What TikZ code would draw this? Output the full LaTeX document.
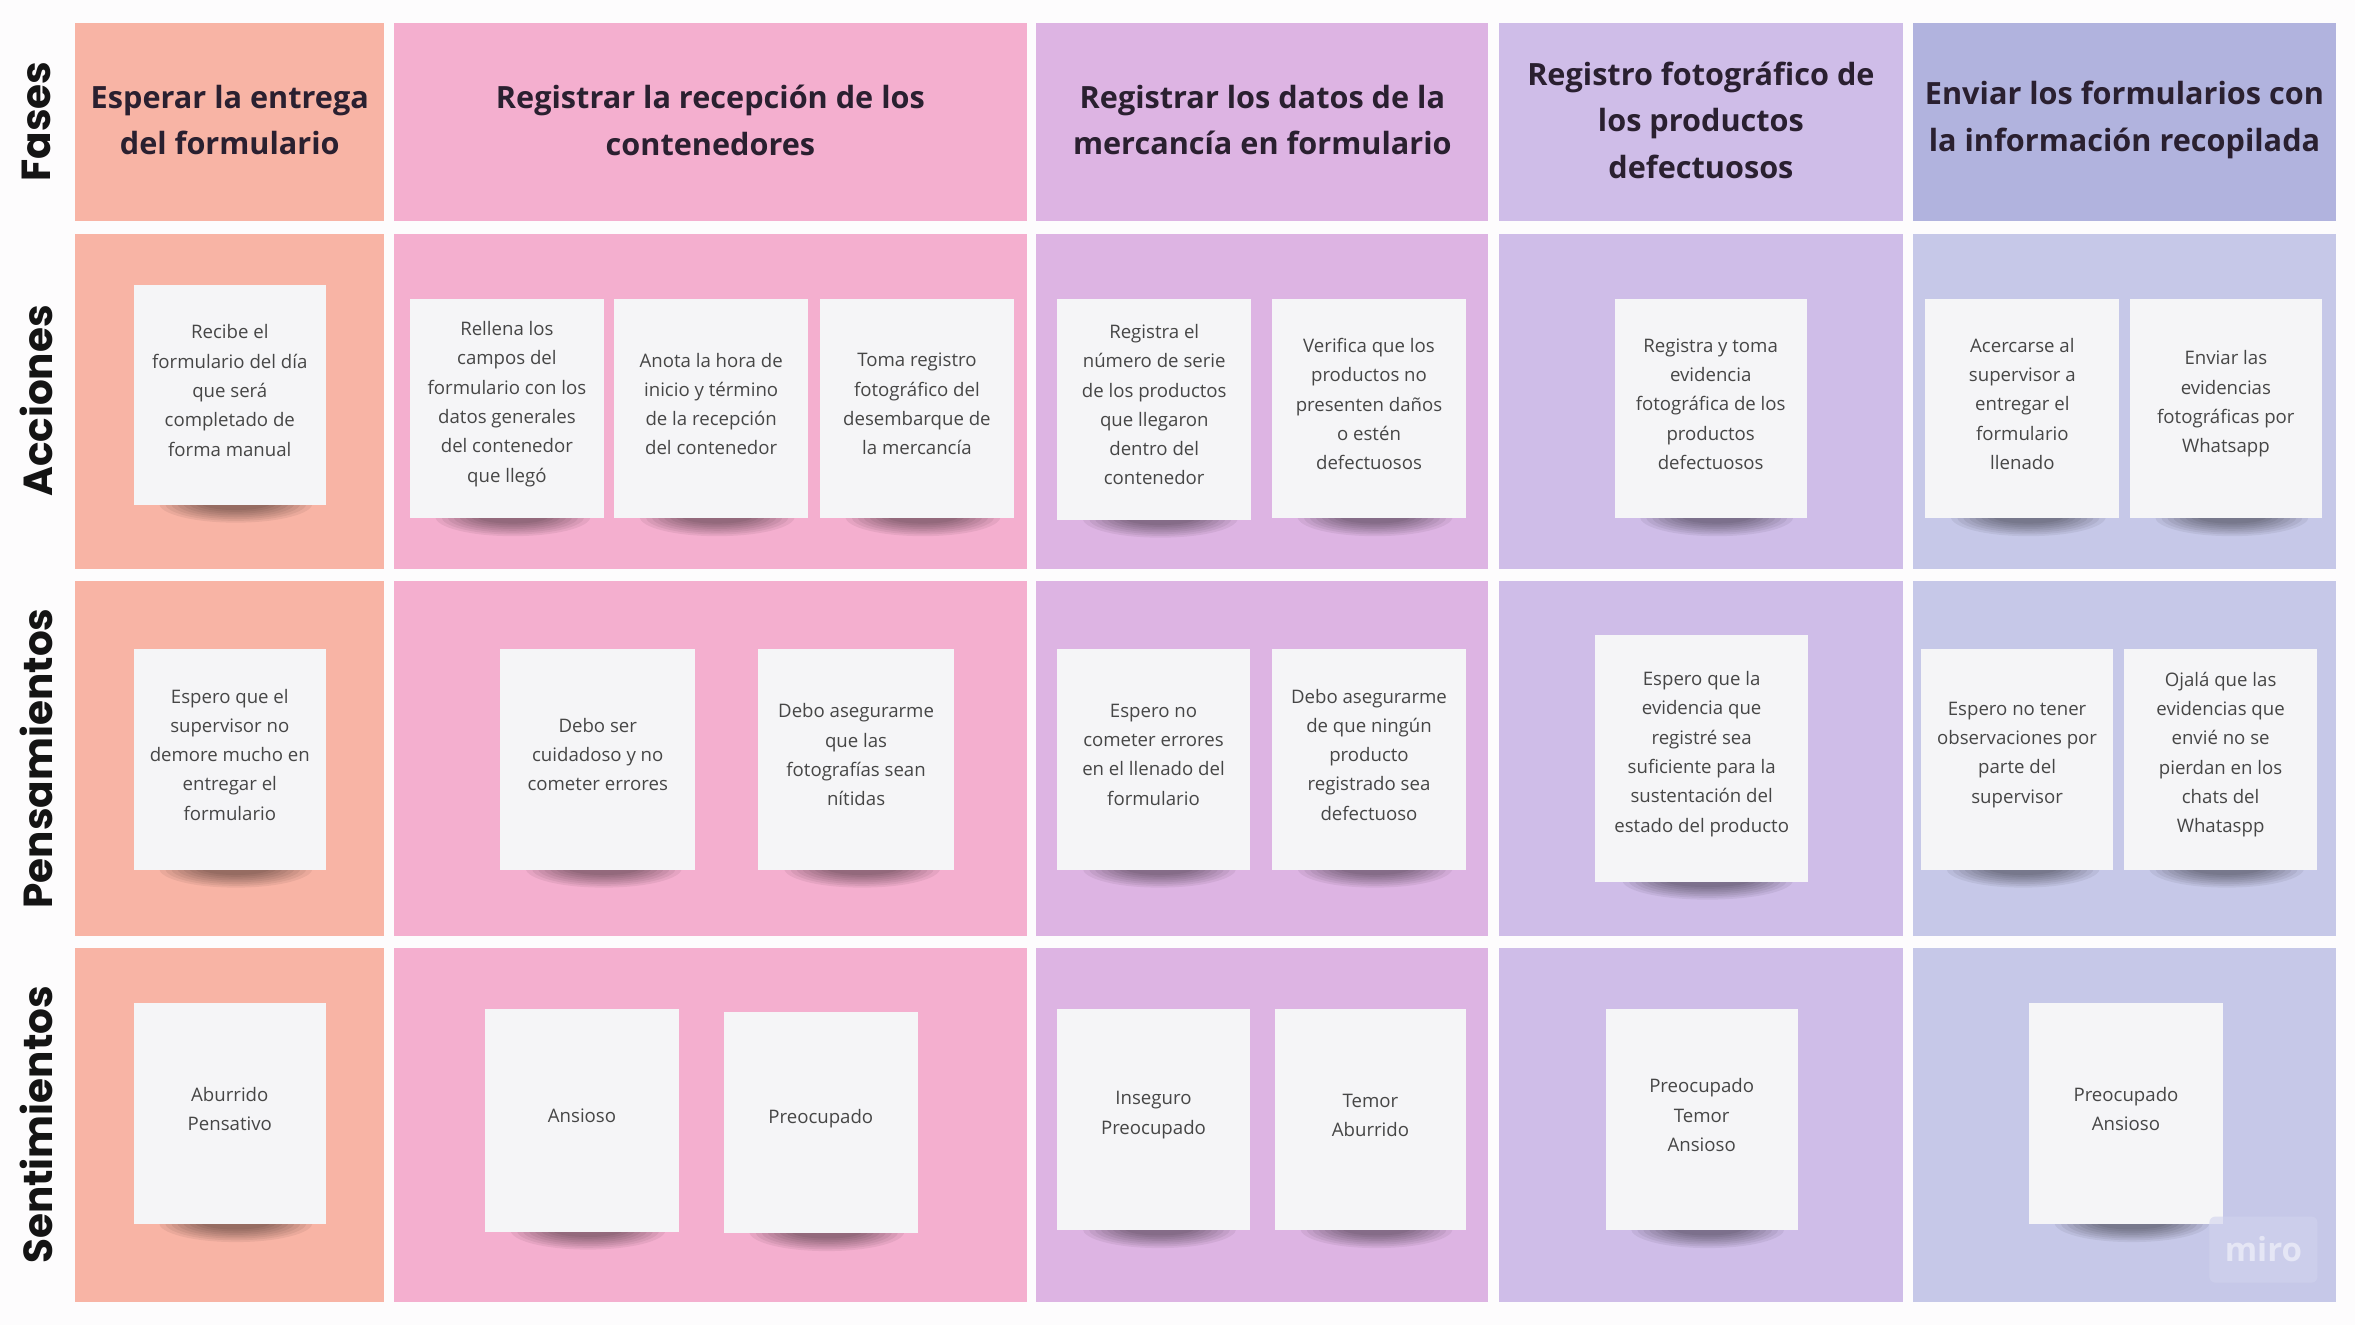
\documentclass[tikz,border=0pt]{standalone}
\usepackage{fontspec}
\setmainfont{Open Sans}
\newfontfamily\poppins{Poppins}
\definecolor{cA}{HTML}{F8B4A5}
\definecolor{cB}{HTML}{F4AFCF}
\definecolor{cC}{HTML}{DDB4E3}
\definecolor{cD}{HTML}{CFBDE8}
\definecolor{cEh}{HTML}{B1B3DE}
\definecolor{cE}{HTML}{C6C8E8}
\definecolor{pagebg}{HTML}{FDFCFD}
\definecolor{notefill}{HTML}{F5F5F7}
\definecolor{notetxt}{HTML}{464646}
\definecolor{headtxt}{HTML}{2A2030}
\tikzset{
  headtext/.style={font=\bfseries\fontsize{10.2}{15.5}\selectfont, align=center, text=headtxt, inner sep=0pt},
  rowlabel/.style={font=\poppins\bfseries\fontsize{13.5}{14}\selectfont, text=black!92, rotate=90, inner sep=0pt},
  stickynote/.style={rectangle, fill=notefill, draw=none, inner sep=0pt},
  notetext/.style={font=\fontsize{6.2}{9.75}\selectfont, align=center, text=notetxt, inner sep=0pt},
  cell/.style={draw=none},
}
\newcommand\sticky[6]{%
  \pgfmathsetmacro\stw{(#4-#2)/2}%
  \pgfmathsetmacro\sth{(#5-#3)/2}%
  \pgfmathsetmacro\stcx{(#2+#4)/2}%
  \pgfmathsetmacro\stcy{(#3+#5)/2}%
  \pgfmathsetmacro\strx{(#4-#2)*0.40}%
  \foreach \k in {0,...,7}{\fill[black,opacity=0.06] (\stcx+4,#5-1) ellipse[x radius=\strx-\k*4, y radius=13-\k*1.2];}
  \node[stickynote, minimum width=\stw pt, minimum height=\sth pt] (#1) at (\stcx,\stcy) {};
  \node[notetext] (#1-t) at ([yshift=1.5pt]#1.center) {#6};
}
\begin{document}
\begin{tikzpicture}[x=0.5pt, y=-0.5pt]
\useasboundingbox (0,0) rectangle (1568,882);
\fill[pagebg] (0,0) rectangle (1568,882);
% cells
\fill[cA] (50,15) rectangle (256,147);
\fill[cB] (262,15) rectangle (684,147);
\fill[cC] (690,15) rectangle (991,147);
\fill[cD] (998,15) rectangle (1267,147);
\fill[cEh] (1274,15) rectangle (1555,147);
\foreach \ya/\yb in {156/379, 387/623, 631/867}{
  \fill[cA] (50,\ya) rectangle (256,\yb);
  \fill[cB] (262,\ya) rectangle (684,\yb);
  \fill[cC] (690,\ya) rectangle (991,\yb);
  \fill[cD] (998,\ya) rectangle (1267,\yb);
  \fill[cE] (1274,\ya) rectangle (1555,\yb);
}
% row labels
\node[rowlabel] (lfases) at (24,81) {Fases};
\node[rowlabel] (lacc) at (24,267) {Acciones};
\node[rowlabel] (lpen) at (24,505) {Pensamientos};
\node[rowlabel] (lsen) at (24,749) {Sentimientos};
% headers
\node[headtext] (h1) at (153,80) {Esperar la entrega\\del formulario};
\node[headtext] (h2) at (473,80) {Registrar la recepción de los\\contenedores};
\node[headtext] (h3) at (840.5,80) {Registrar los datos de la\\mercancía en formulario};
\node[headtext] (h4) at (1132.5,80) {Registro fotográfico de\\los productos\\defectuosos};
\node[headtext] (h5) at (1414.5,80) {Enviar los formularios con\\la información recopilada};
% Acciones
\sticky{a1}{89}{190}{217}{336}{Recibe el\\formulario del día\\que será\\completado de\\forma manual}
\sticky{a2}{273}{199}{402}{345}{Rellena los\\campos del\\formulario con los\\datos generales\\del contenedor\\que llegó}
\sticky{a3}{409}{199}{538}{345}{Anota la hora de\\inicio y término\\de la recepción\\del contenedor}
\sticky{a4}{546}{199}{675}{345}{Toma registro\\fotográfico del\\desembarque de\\la mercancía}
\sticky{a5}{704}{199}{833}{346}{Registra el\\número de serie\\de los productos\\que llegaron\\dentro del\\contenedor}
\sticky{a6}{847}{199}{976}{345}{Verifica que los\\productos no\\presenten daños\\o estén\\defectuosos}
\sticky{a7}{1075}{199}{1203}{345}{Registra y toma\\evidencia\\fotográfica de los\\productos\\defectuosos}
\sticky{a8}{1282}{199}{1411}{345}{Acercarse al\\supervisor a\\entregar el\\formulario\\llenado}
\sticky{a9}{1418}{199}{1546}{345}{Enviar las\\evidencias\\fotográficas por\\Whatsapp}
% Pensamientos
\sticky{p1}{89}{432}{217}{579}{Espero que el\\supervisor no\\demore mucho en\\entregar el\\formulario}
\sticky{p2}{333}{432}{463}{579}{Debo ser\\cuidadoso y no\\cometer errores}
\sticky{p3}{505}{432}{635}{579}{Debo asegurarme\\que las\\fotografías sean\\nítidas}
\sticky{p4}{704}{432}{832}{579}{Espero no\\cometer errores\\en el llenado del\\formulario}
\sticky{p5}{847}{432}{976}{579}{Debo asegurarme\\de que ningún\\producto\\registrado sea\\defectuoso}
\sticky{p6}{1062}{423}{1204}{587}{Espero que la\\evidencia que\\registré sea\\suficiente para la\\sustentación del\\estado del producto}
\sticky{p7}{1279}{432}{1407}{579}{Espero no tener\\observaciones por\\parte del\\supervisor}
\sticky{p8}{1414}{432}{1543}{579}{Ojalá que las\\evidencias que\\envié no se\\pierdan en los\\chats del\\Whataspp}
% Sentimientos
\sticky{s1}{89}{668}{217}{815}{Aburrido\\Pensativo}
\sticky{s2}{323}{672}{452}{820}{Ansioso}
\sticky{s3}{482}{674}{611}{821}{Preocupado}
\sticky{s4}{704}{672}{832}{819}{Inseguro\\Preocupado}
\sticky{s5}{849}{672}{976}{819}{Temor\\Aburrido}
\sticky{s6}{1069}{672}{1197}{819}{Preocupado\\Temor\\Ansioso}
\sticky{s7}{1351}{668}{1480}{815}{Preocupado\\Ansioso}
% miro logo
\node[fill=cE!80!white, opacity=0.6, text opacity=1, rounded corners=2pt, minimum width=36pt, minimum height=22pt, text=cE!45!white, font=\bfseries\fontsize{11}{12}\selectfont] (logo) at (1507,832) {miro};
\end{tikzpicture}
\end{document}
